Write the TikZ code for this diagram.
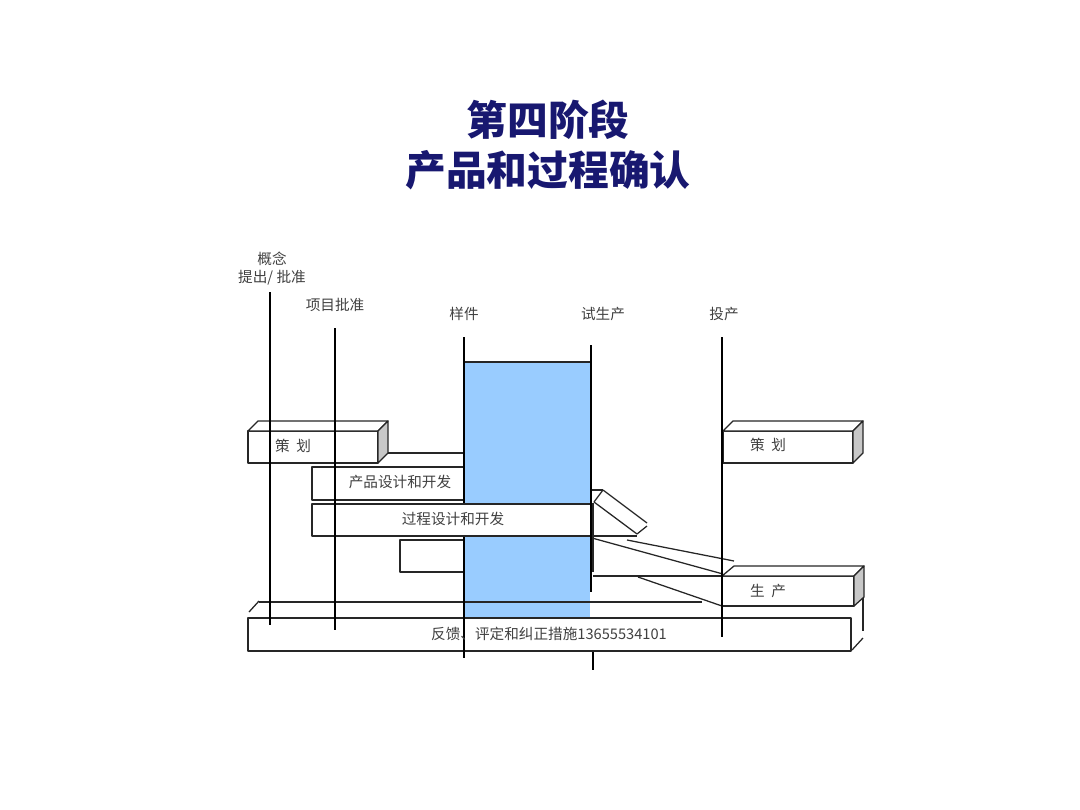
\documentclass[tikz,border=0pt]{standalone}
\usepackage{fontspec}
\newfontfamily\cjk{Noto Sans CJK SC}
\usepackage{tikz}
\usetikzlibrary{positioning}
\definecolor{stageblue}{RGB}{153,204,255}
\definecolor{titlenavy}{RGB}{24,24,112}
\definecolor{facegray}{RGB}{200,200,200}

\begin{document}
\begin{tikzpicture}[x=0.025cm,y=-0.025cm,line join=round,
  gate/.style={line width=1.6pt},
  edge/.style={line width=0.9pt,draw=black!85},
  side/.style={edge,fill=facegray},
  lbl/.style={font=\cjk\fontsize{10.4}{12.5}\selectfont,text=black!75,inner sep=0pt},
  head/.style={font=\cjk\bfseries\fontsize{29}{34}\selectfont,text=titlenavy}]
\useasboundingbox (0,0) rectangle (1080,810);
% title
\node[head] (title1) at (548,120) {第四阶段};
\node[head] (title2) at (548,170) {产品和过程确认};
% validation window
\fill[stageblue] (464,362) rectangle (590,618);
\draw[edge] (464,362) -- (590,362);
% small box under process design
\draw[edge] (464,540) -- (400,540) -- (400,572) -- (464,572);
% product design
\draw[edge,fill=white] (312,467) rectangle (464,500);
% planning, left
\draw[edge,fill=white] (248,431) rectangle (378,463);
\draw[edge,fill=white] (248,431) -- (258,421) -- (388,421) -- (378,431) -- cycle;
\draw[side] (378,431) -- (388,421) -- (388,453) -- (378,463) -- cycle;
\draw[edge] (388,453) -- (464,453);
% feedback bar
\draw[edge,fill=white] (248,618) rectangle (851,651);
\draw[edge] (249,612) -- (259,601);
\draw[edge] (259,602) -- (702,602);
\draw[edge] (863,598) -- (863,631);
\draw[edge] (863,638) -- (852,650);
% sample gate
\draw[gate] (464,337) -- (464,658);
% process design
\draw[edge,fill=white] (312,504) rectangle (591,536);
% hand-over strips
\draw[edge] (591,490) -- (603,490);
\draw[edge] (603,490) -- (647,523);
\draw[edge] (594,502) -- (637,534);
\draw[edge] (594,502) -- (603,490);
\draw[edge] (637,534) -- (647,526);
\draw[edge] (591,536) -- (637,536);
\draw[edge] (593,503) -- (593,572);
\draw[edge] (592,538) -- (723,574);
\draw[edge] (627,540) -- (734,561);
\draw[edge] (593,576) -- (722,576);
\draw[edge] (638,577) -- (722,606);
% planning, right
\draw[edge,fill=white] (723,431) rectangle (853,463);
\draw[edge,fill=white] (723,431) -- (733,421) -- (863,421) -- (853,431) -- cycle;
\draw[side] (853,431) -- (863,421) -- (863,453) -- (853,463) -- cycle;
% production
\draw[edge,fill=white] (722,576) rectangle (854,606);
\draw[edge,fill=white] (722,576) -- (734,566) -- (864,566) -- (854,576) -- cycle;
\draw[side] (854,576) -- (864,566) -- (864,597) -- (854,606) -- cycle;
% other gates
\draw[gate] (270,292) -- (270,625);
\draw[gate] (335,328) -- (335,630);
\draw[gate] (591,345) -- (591,592);
\draw[gate] (593,652) -- (593,670);
\draw[gate] (722,337) -- (722,637);
% gate labels
\node[lbl] (concept) at (272,259) {概念};
\node[lbl] (approve) at (272,278) {提出/ 批准};
\node[lbl] (project) at (335,305) {项目批准};
\node[lbl] (sample) at (464,314) {样件};
\node[lbl] (trial) at (603,314) {试生产};
\node[lbl] (launch) at (724,314) {投产};
% box labels
\node[lbl] (plan1) at (293,446) {策\ \ 划};
\node[lbl] (plan2) at (768,445) {策\ \ 划};
\node[lbl] (prod) at (400,482) {产品设计和开发};
\node[lbl] (proc) at (453,519) {过程设计和开发};
\node[lbl] (mfg) at (768,591) {生\ \ 产};
\node[lbl] (feedback) at (549,634) {反馈、评定和纠正措施13655534101};
\end{tikzpicture}
\end{document}
